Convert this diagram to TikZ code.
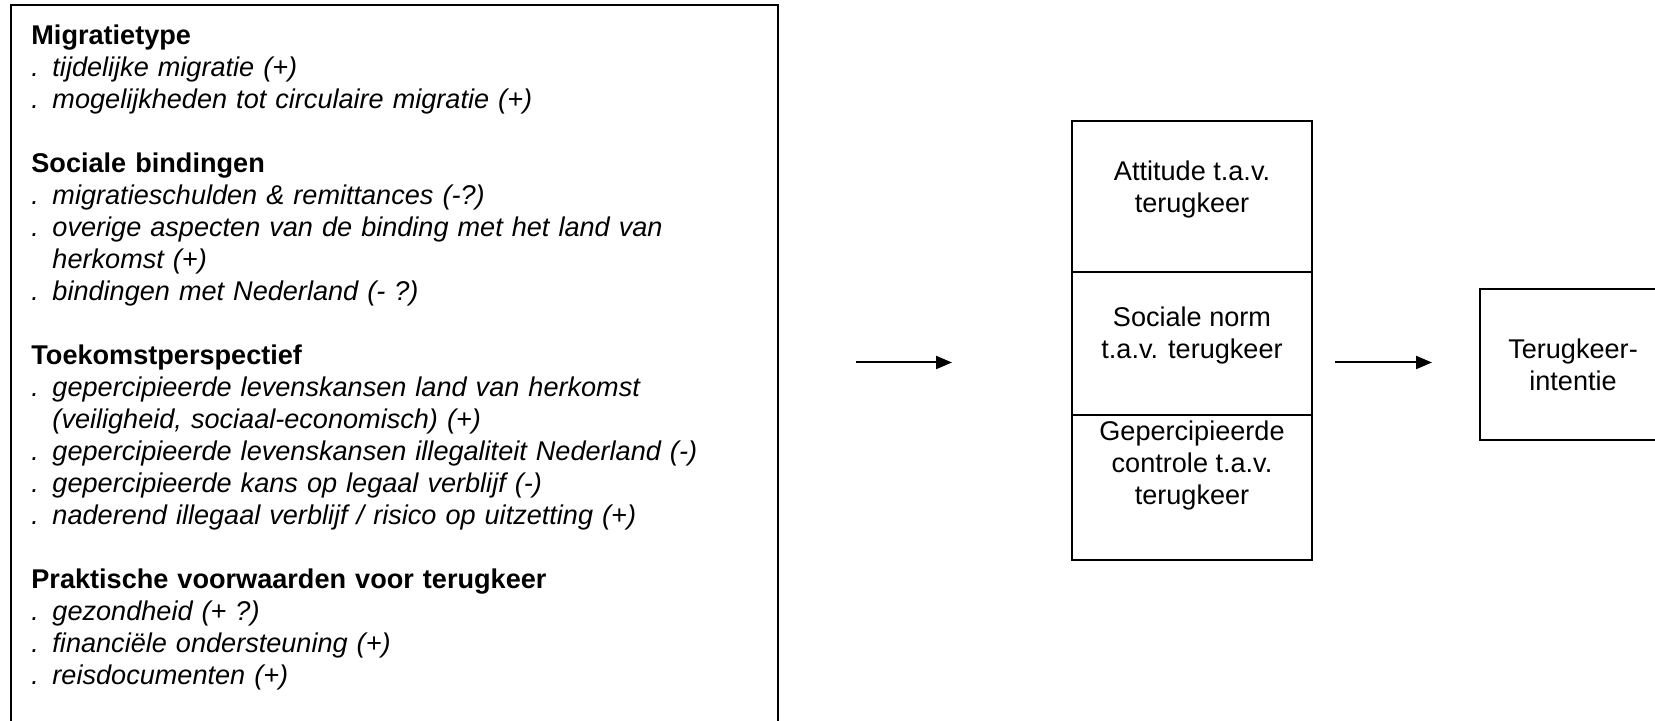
\documentclass[tikz,border=0pt]{standalone}
\usepackage{fontspec}
\setmainfont{Liberation Sans}
\usetikzlibrary{positioning, arrows.meta}

\begin{document}
\begin{tikzpicture}[x=0.5pt,y=-0.5pt,font=\fontsize{13.55pt}{16pt}\selectfont]
\tikzstyle{frame} = [rectangle, draw=black, line width=1pt, outer sep=0pt, inner sep=0pt]
\tikzstyle{factor} = [rectangle, align=left, text width=370pt, inner sep=0pt]
\tikzstyle{tpb} = [rectangle, draw=black, line width=1pt, outer sep=0pt, minimum width=120pt, text centered]
\tikzstyle{tpbtext} = [align=center, inner sep=0pt]

\tikzstyle{arrow} = [line width=1pt,-{Triangle[length=8pt,width=6.5pt]}]

\useasboundingbox (0,0) rectangle (1655,721);
\clip (0,0) rectangle (1655,721);

\node (factors) [frame, anchor=north west, minimum width=383.5pt, minimum height=380pt] at (11,5) {};
\node (factortext) [factor, anchor=north west] at ([xshift=10pt,yshift=-9.5pt]factors.north west) {
\textbf{Migratietype}\\
\textit{. tijdelijke migratie (+)}\\
\textit{. mogelijkheden tot circulaire migratie (+)}\\[16pt]
\textbf{Sociale bindingen}\\
\textit{. migratieschulden \& remittances (-?)}\\
\textit{. overige aspecten van de binding met het land van}\\
\textit{\phantom{. }herkomst (+)}\\
\textit{. bindingen met Nederland (- ?)}\\[16pt]
\textbf{Toekomstperspectief}\\
\textit{. gepercipieerde levenskansen land van herkomst}\\
\textit{\phantom{. }(veiligheid, sociaal-economisch) (+)}\\
\textit{. gepercipieerde levenskansen illegaliteit Nederland (-)}\\
\textit{. gepercipieerde kans op legaal verblijf (-)}\\
\textit{. naderend illegaal verblijf / risico op uitzetting (+)}\\[16pt]
\textbf{Praktische voorwaarden voor terugkeer}\\
\textit{. gezondheid (+ ?)}\\
\textit{. financiële ondersteuning (+)}\\
\textit{. reisdocumenten (+)}};

\node (attitude) [tpb, minimum height=75.5pt] at (1192,196.5) {};
\node (norm) [tpb, minimum height=71.5pt, below=0pt of attitude] {};
\node (control) [tpb, minimum height=72.5pt, below=0pt of norm] {};
\node (attitudetext) [tpbtext] at ([yshift=3.5pt]attitude.center) {Attitude t.a.v.\\terugkeer};
\node (normtext) [tpbtext] at ([yshift=4.25pt]norm.center) {Sociale norm\\t.a.v. terugkeer};
\node (controltext) [tpbtext] at ([yshift=11pt]control.center) {Gepercipieerde\\controle t.a.v.\\terugkeer};

\node (intention) [tpb, minimum width=93pt, minimum height=75.5pt, align=center] at (1573,364.5) {Terugkeer-\\intentie};

\coordinate[xshift=39pt,yshift=1pt] (a1) at (factors.east |- intention);
\coordinate[xshift=-60pt,yshift=1pt] (b1) at (attitude.west |- intention);
\coordinate[xshift=11.5pt,yshift=1pt] (a2) at (norm.east |- intention);
\coordinate[xshift=-24pt,yshift=1pt] (b2) at (intention.west);

\draw [arrow] (a1) -- (b1);
\draw [arrow] (a2) -- (b2);

\end{tikzpicture}
\end{document}
